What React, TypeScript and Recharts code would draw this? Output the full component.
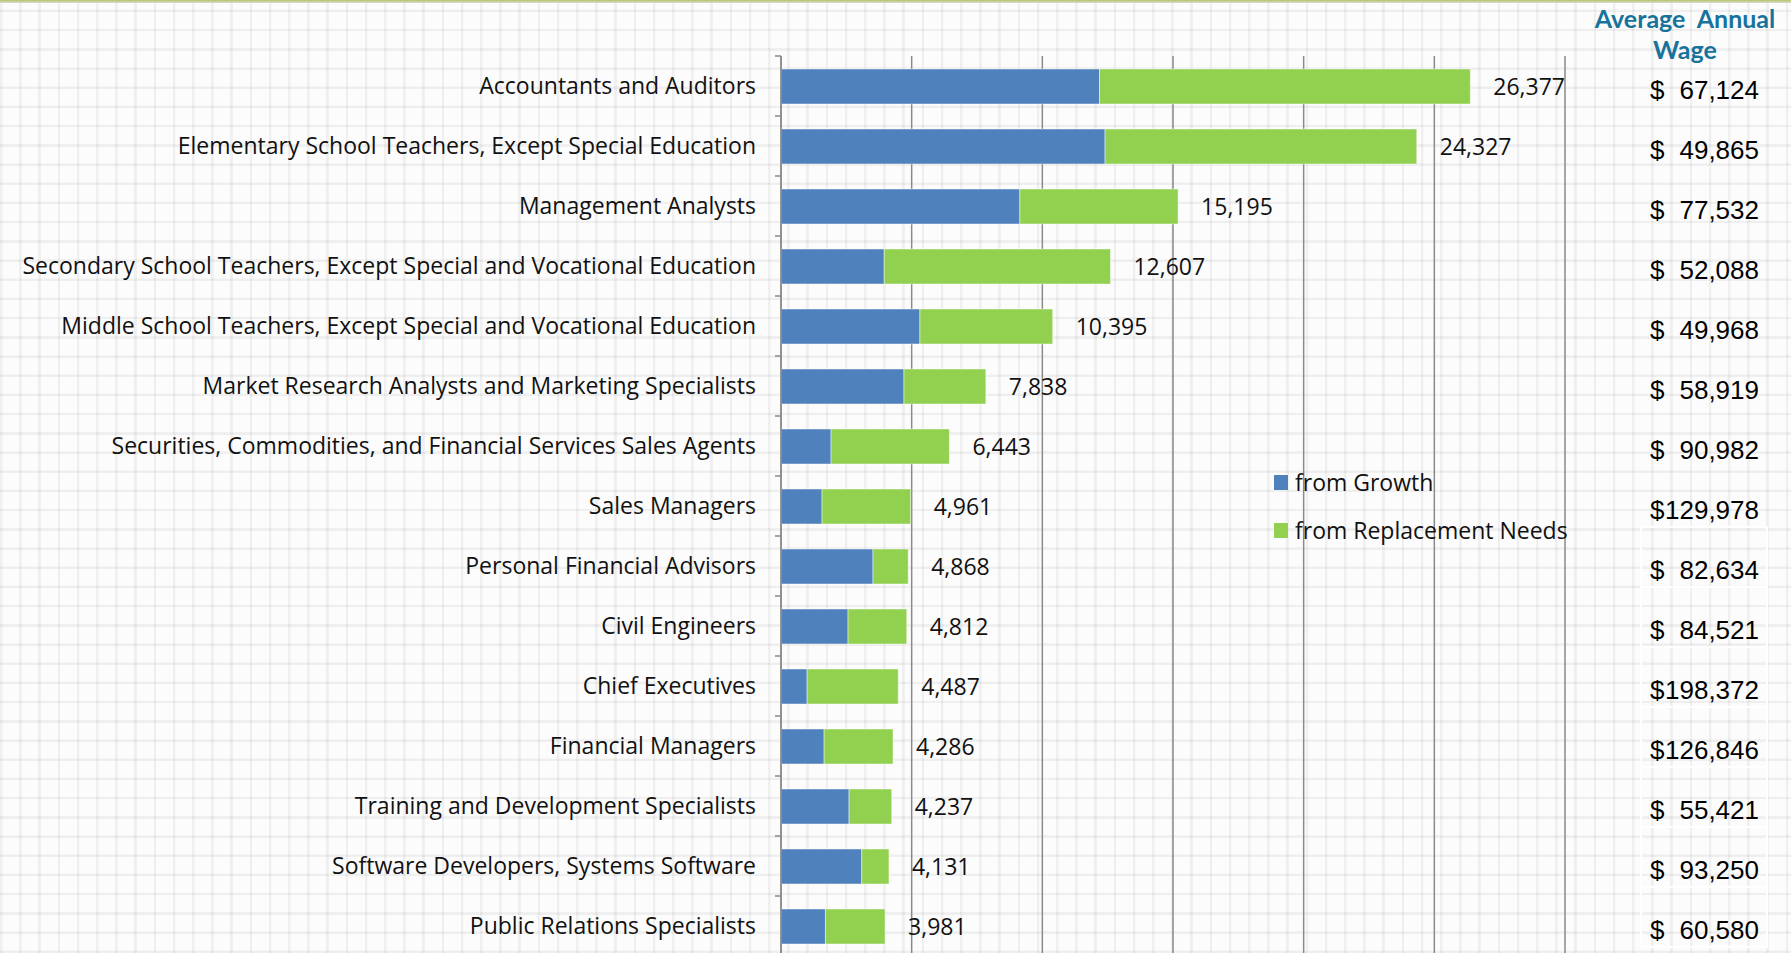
import React from "react"
import { BarChart, Bar, XAxis, YAxis, CartesianGrid, LabelList } from "recharts"

// occupations, top to bottom
const occupations = [
  "Accountants and Auditors",
  "Elementary School Teachers, Except Special Education",
  "Management Analysts",
  "Secondary School Teachers, Except Special and Vocational Education",
  "Middle School Teachers, Except Special and Vocational Education",
  "Market Research Analysts and Marketing Specialists",
  "Securities, Commodities, and Financial Services Sales Agents",
  "Sales Managers",
  "Personal Financial Advisors",
  "Civil Engineers",
  "Chief Executives",
  "Financial Managers",
  "Training and Development Specialists",
  "Software Developers, Systems Software",
  "Public Relations Specialists",
]

// openings from growth
const fromGrowth = [12190, 12400, 9140, 3950, 5315, 4705, 1915, 1570, 3520, 2565, 1000, 1650, 2605, 3090, 1700]

// openings from replacement needs (estimated)
const fromReplacement = [14187, 11927, 6055, 8657, 5080, 3133, 4528, 3391, 1348, 2247, 3487, 2636, 1632, 1041, 2281]

// total labels printed next to each bar
const totals = [26377, 24327, 15195, 12607, 10395, 7838, 6443, 4961, 4868, 4812, 4487, 4286, 4237, 4131, 3981]

const wages = [67124, 49865, 77532, 52088, 49968, 58919, 90982, 129978, 82634, 84521, 198372, 126846, 55421, 93250, 60580]

const xTicks = [0, 5000, 10000, 15000, 20000, 25000, 30000]
const X_MAX = 30000

const series = [
  { key: "growth", name: "from Growth", color: "#4f81bd" },
  { key: "replacement", name: "from Replacement Needs", color: "#92d050" },
]

const data = occupations.map((name, i) => ({
  name,
  growth: fromGrowth[i],
  replacement: fromReplacement[i],
  total: totals[i],
}))

const W = 1791
const H = 960
const TOP = 56
const BOTTOM = 4
const LEFT_W = 781
const RIGHT_W = 226
const BAND = (H - TOP - BOTTOM) / occupations.length

const labelFont = "'Open Sans', Lato, sans-serif"
const gridColor = "#8a8a8a"

function CategoryTick(props: any) {
  const { y, payload } = props
  const axisX = LEFT_W
  return (
    <g>
      <line x1={axisX - 6} x2={axisX} y1={y - BAND / 2} y2={y - BAND / 2} stroke={gridColor} strokeWidth={1.5} />
      <text x={axisX - 25} y={y} dy="0.35em" textAnchor="end" fontFamily={labelFont} fontSize={23} fill="#111">
        {payload.value}
      </text>
    </g>
  )
}

function WageTick(props: any) {
  const { y, index } = props
  const w = wages[index]
  return (
    <g>
      {index >= 8 && (
        <rect x={1641} y={y - 39} width={126} height={60} fill="none" stroke="#ffffff" strokeWidth={2} />
      )}
      <text x={1650} y={y + 4} dy="0.35em" fontFamily="'Liberation Sans', Arial, sans-serif" fontSize={26} fill="#000">
        $
      </text>
      <text x={1759} y={y + 4} dy="0.35em" textAnchor="end" fontFamily="'Liberation Sans', Arial, sans-serif" fontSize={26} fill="#000">
        {w.toLocaleString("en-US")}
      </text>
    </g>
  )
}

const gridX = ({ xAxis, offset }: any) =>
  xTicks.map((t) =>
    xAxis && typeof xAxis.scale === "function" ? xAxis.scale(t) : offset.left + (t / X_MAX) * offset.width
  )

export default function App() {
  return (
    <div
      style={{
        position: "absolute",
        left: 0,
        top: 0,
        width: W,
        height: 953,
        overflow: "hidden",
        backgroundColor: "#fcfcfc",
        backgroundImage:
          "repeating-linear-gradient(90deg, rgba(0,0,0,0.05) 0px, rgba(0,0,0,0.05) 2px, transparent 3px, transparent 19.2px), repeating-linear-gradient(0deg, rgba(0,0,0,0.05) 0px, rgba(0,0,0,0.05) 2px, transparent 3px, transparent 19.2px)",
      }}
    >
      <div style={{ position: "absolute", left: 0, top: 0, width: W, height: 3, background: "linear-gradient(180deg, #b2c66e, #d9dccf)" }} />
      <div
        style={{
          position: "absolute",
          left: 1560,
          top: 3,
          width: 250,
          textAlign: "center",
          fontFamily: "Lato, sans-serif",
          fontWeight: 700,
          fontSize: 25,
          lineHeight: "31px",
          color: "#17739b",
          whiteSpace: "pre",
        }}
      >
        {"Average  Annual\nWage"}
      </div>
      <div style={{ position: "absolute", left: 1274, top: 458, zIndex: 2 }}>
        {series.map((s) => (
          <div key={s.key} style={{ display: "flex", alignItems: "center", height: 48 }}>
            <span style={{ width: 14, height: 15, background: s.color, marginRight: 7 }} />
            <span style={{ fontFamily: labelFont, fontSize: 23, color: "#111" }}>{s.name}</span>
          </div>
        ))}
      </div>
      <BarChart
        width={W}
        height={H}
        data={data}
        layout="vertical"
        barSize={35}
        margin={{ top: TOP, right: 0, left: 0, bottom: BOTTOM }}
      >
        <CartesianGrid
          horizontal={false}
          stroke={gridColor}
          strokeWidth={1.5}
          verticalCoordinatesGenerator={gridX}
        />
        <XAxis
          type="number"
          domain={[0, X_MAX]}
          ticks={xTicks}
          interval={0}
          tick={false}
          axisLine={false}
          tickLine={false}
          height={0}
        />
        <YAxis
          yAxisId="left"
          type="category"
          dataKey="name"
          width={LEFT_W}
          interval={0}
          tickLine={false}
          axisLine={{ stroke: gridColor, strokeWidth: 1.5 }}
          tick={<CategoryTick />}
        />
        <YAxis
          yAxisId="right"
          orientation="right"
          type="category"
          dataKey="name"
          width={RIGHT_W}
          interval={0}
          tickLine={false}
          axisLine={false}
          tick={<WageTick />}
        />
        {series.map((s) => (
          <Bar
            key={s.key}
            yAxisId="left"
            dataKey={s.key}
            name={s.name}
            stackId="a"
            fill={s.color}
            stroke="rgba(255,255,255,0.45)"
            strokeWidth={1}
            isAnimationActive={false}
          >
            {s.key === "replacement" && (
              <LabelList
                dataKey="total"
                position="right"
                offset={23}
                formatter={(v: any) => Number(v).toLocaleString("en-US")}
                style={{ fontFamily: labelFont, fontSize: 23, fill: "#111" }}
              />
            )}
          </Bar>
        ))}
      </BarChart>
    </div>
  )
}
